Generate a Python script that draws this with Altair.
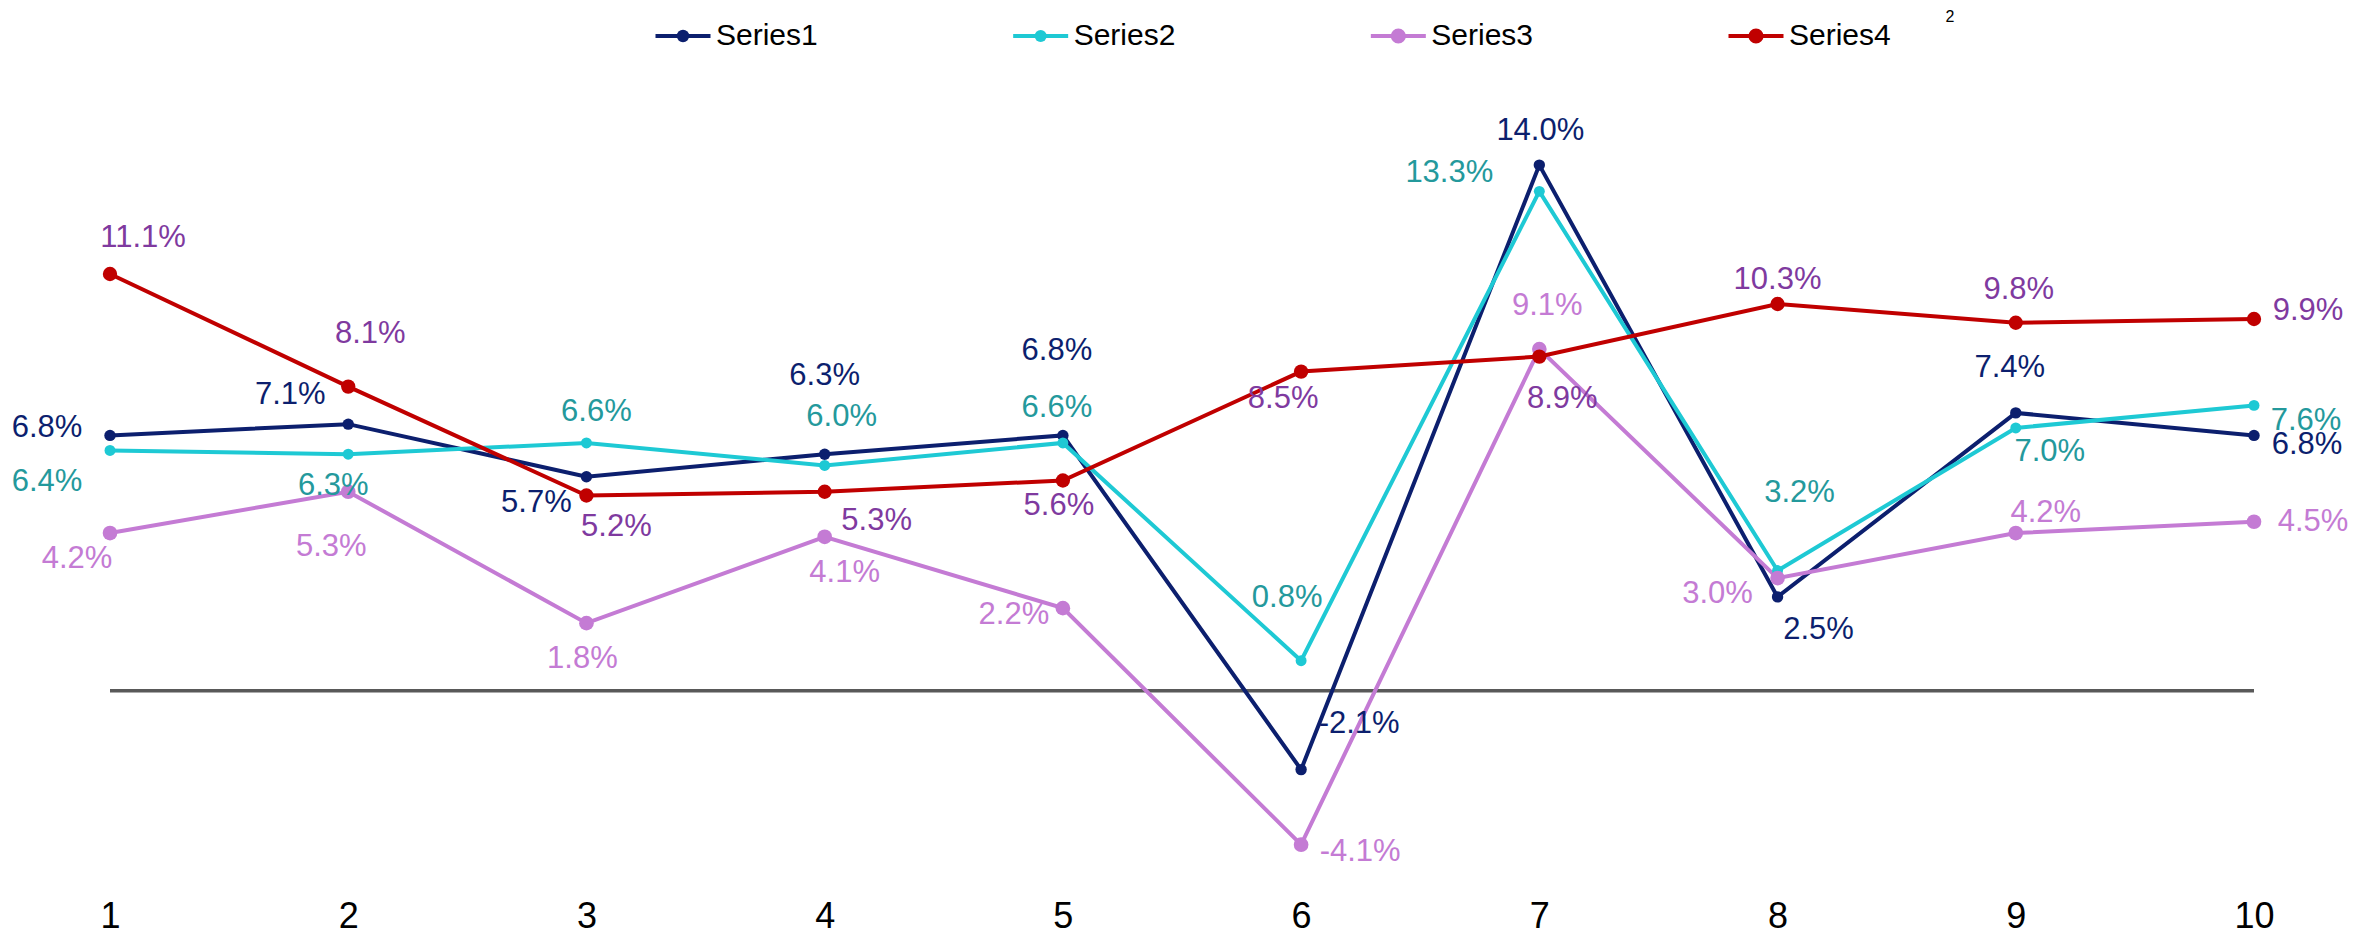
import altair as alt
import pandas as pd

# ---------------- data ----------------
categories = [1, 2, 3, 4, 5, 6, 7, 8, 9, 10]
series_names = ["Series1", "Series2", "Series3", "Series4"]
series1 = [6.8, 7.1, 5.7, 6.3, 6.8, -2.1, 14.0, 2.5, 7.4, 6.8]
series2 = [6.4, 6.3, 6.6, 6.0, 6.6, 0.8, 13.3, 3.2, 7.0, 7.6]
series3 = [4.2, 5.3, 1.8, 4.1, 2.2, -4.1, 9.1, 3.0, 4.2, 4.5]
series4 = [11.1, 8.1, 5.2, 5.3, 5.6, 8.5, 8.9, 10.3, 9.8, 9.9]
baseline_value = [0]
footnote = "2"

# ---------------- style ----------------
line_colors = ["#0C1F6E", "#1EC9D4", "#C47BD4", "#C00000"]
label_colors = ["#0C1F6E", "#24999C", "#C47BD4", "#7F3A9F"]
point_sizes = [130, 120, 215, 205]
legend_dot_sizes = [155, 145, 230, 230]
FONT = "Liberation Sans"

# label offsets in pixels relative to their point (dx right, dy down)
label_dx = [
    [-63, -58, -50, 0, -6, 58, 1, 41, -6, 53],
    [-63, -15, 10, 17, -6, -14, -90, 22, 34, 52],
    [-33, -17, -4, 20, -49, 59, 8, -60, 30, 59],
    [33, 22, 30, 52, -4, -18, 23, 0, 3, 54],
]
label_dy = [
    [-7, -29, 26, -78, -84, -46, -34, 33, -45, 10],
    [32, 32, -31, -48, -35, -63, -18, -78, 24, 16],
    [26, 55, 36, 36, 7, 7, -43, 16, -20, 0],
    [-36, -53, 31, 29, 26, 27, 42, -24, -33, -8],
]

# ---------------- layout ----------------
W = 2144
H = 781
Y_DOMAIN = [-5.2, 15.6]
X_DOMAIN = [categories[0], categories[-1]]
PX_PER_X = W / (X_DOMAIN[1] - X_DOMAIN[0])
PX_PER_Y = H / (Y_DOMAIN[1] - Y_DOMAIN[0])
LEGEND_RANGE = [573, 1646]   # legend symbol centres, px from plot origin
LEGEND_Y = -69
NOTE_X, NOTE_Y = 1840, -88

all_values = [series1, series2, series3, series4]
rows = []
for si, (name, vals) in enumerate(zip(series_names, all_values)):
    for ci, (c, v) in enumerate(zip(categories, vals)):
        rows.append({
            "x": c,
            "value": v,
            "series": name,
            "label": f"{v:.1f}%",
            "dx": label_dx[si][ci],
            "dy": label_dy[si][ci],
            "size": point_sizes[si],
            "labelcolor": label_colors[si],
            "order": si,
        })
df = pd.DataFrame(rows)

x_scale = alt.Scale(domain=X_DOMAIN, nice=False, zero=False)
x_axis = alt.Axis(
    values=categories, format="d", title=None, grid=False, domain=False,
    ticks=False, tickSize=0, labelFontSize=36, labelFont=FONT,
    labelColor="#000000", labelPadding=13, labelFlush=False,
)
x_enc = alt.X("x:Q", scale=x_scale, axis=x_axis, title=None)
y_scale = alt.Scale(domain=Y_DOMAIN, nice=False, zero=False)
y_enc = alt.Y("value:Q", scale=y_scale, axis=None)
color_scale = alt.Scale(domain=series_names, range=line_colors)

base = alt.Chart(df)

zero_df = pd.DataFrame({"x": [X_DOMAIN[0]], "x2": [X_DOMAIN[1]], "value": baseline_value})
zero_rule = alt.Chart(zero_df).mark_rule(color="#595959", strokeWidth=3.5).encode(
    x=x_enc, x2="x2:Q", y=y_enc,
)

lines = base.mark_line(strokeWidth=4).encode(
    x=x_enc, y=y_enc,
    color=alt.Color("series:N", scale=color_scale, legend=None),
    detail="series:N", order="x:Q",
)

points = base.mark_point(filled=True, opacity=1, strokeWidth=0).encode(
    x=x_enc, y=y_enc,
    color=alt.Color("series:N", scale=color_scale, legend=None),
    size=alt.Size("size:Q", scale=None, legend=None),
    order=alt.Order("order:Q"),
)

labels = base.transform_calculate(
    lx=f"datum.x + datum.dx / {PX_PER_X}",
    ly=f"datum.value - datum.dy / {PX_PER_Y}",
).mark_text(font=FONT, fontSize=31, align="center", baseline="middle").encode(
    x=alt.X("lx:Q", scale=x_scale, axis=x_axis, title=None),
    y=alt.Y("ly:Q", scale=y_scale, axis=None),
    text="label:N",
    color=alt.Color("labelcolor:N", scale=None, legend=None),
)

main = alt.layer(zero_rule, lines, points, labels)

# ---------------- legend (line with a dot, then the name) ----------------
t = 0.07
LINE_SYMBOL = f"M-1,{-t} L1,{-t} L1,{t} L-1,{t} Z"
legend_df = pd.DataFrame({"series": series_names, "dot": legend_dot_sizes})
leg_x = alt.X(
    "series:N",
    scale=alt.Scale(type="point", domain=series_names, range=LEGEND_RANGE, padding=0),
    axis=None,
)
legend_lines = alt.Chart(legend_df).mark_point(
    shape=LINE_SYMBOL, filled=True, size=3025, opacity=1, strokeWidth=0
).encode(
    x=leg_x, y=alt.value(LEGEND_Y),
    color=alt.Color("series:N", scale=color_scale, legend=None),
)
legend_dots = alt.Chart(legend_df).mark_point(
    shape="circle", filled=True, opacity=1, strokeWidth=0
).encode(
    x=leg_x, y=alt.value(LEGEND_Y),
    color=alt.Color("series:N", scale=color_scale, legend=None),
    size=alt.Size("dot:Q", scale=None, legend=None),
)
legend_labels = alt.Chart(legend_df).mark_text(
    font=FONT, fontSize=30, align="left", baseline="middle", dx=33, color="#000000"
).encode(x=leg_x, y=alt.value(LEGEND_Y), text="series:N")

note = alt.Chart(pd.DataFrame({"note": [footnote]})).mark_text(
    font=FONT, fontSize=16, align="center", baseline="middle", color="#000000"
).encode(x=alt.value(NOTE_X), y=alt.value(NOTE_Y), text="note:N")

legend_layer = alt.layer(legend_lines, legend_dots, legend_labels, note)

chart = alt.layer(main, legend_layer).resolve_scale(x="independent").properties(
    width=W,
    height=H,
    autosize=alt.AutoSizeParams(type="none"),
    padding={"left": 102, "top": 97, "right": 110, "bottom": 42},
).configure_view(stroke=None)

chart.save("out.html", embed_options={"renderer": "svg", "actions": False})
